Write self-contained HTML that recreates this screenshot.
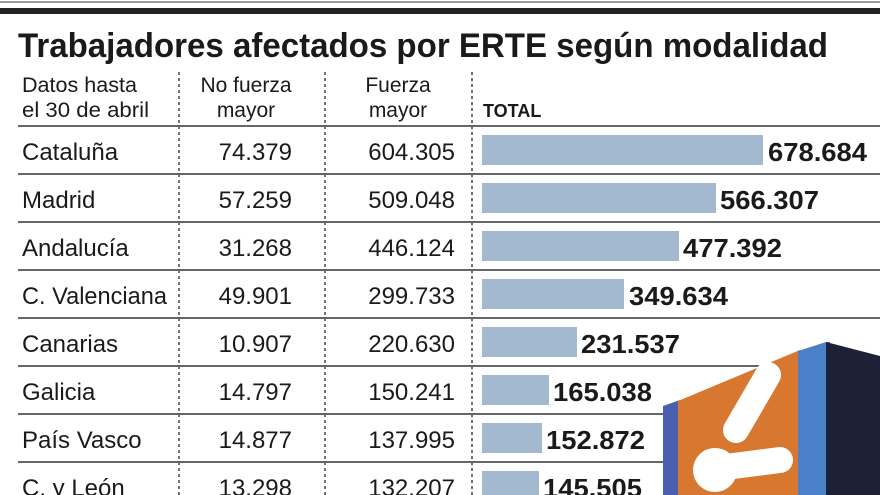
<!DOCTYPE html>
<html><head><meta charset="utf-8"><style>
html,body{margin:0;padding:0;background:#fff;}
svg{display:block;}
text{font-family:"Liberation Sans",sans-serif;fill:#1a1a1a;}
</style></head><body>
<svg width="880" height="495" viewBox="0 0 880 495">
<rect x="0" y="0" width="880" height="495" fill="#fff"/>
<rect x="0" y="1" width="880" height="2" fill="#999"/>
<rect x="0" y="8" width="880" height="6" fill="#222"/>
<text x="18" y="57" font-size="34" font-weight="bold" textLength="810" lengthAdjust="spacingAndGlyphs">Trabajadores afectados por ERTE según modalidad</text>
<g font-size="21" fill="#333">
<text x="22" y="92" textLength="115" lengthAdjust="spacingAndGlyphs">Datos hasta</text>
<text x="22" y="117" textLength="127" lengthAdjust="spacingAndGlyphs">el 30 de abril</text>
<text x="246" y="92" text-anchor="middle">No fuerza</text>
<text x="246" y="117" text-anchor="middle">mayor</text>
<text x="398" y="92" text-anchor="middle">Fuerza</text>
<text x="398" y="117" text-anchor="middle">mayor</text>
</g>
<text x="483" y="117" font-size="18" font-weight="bold">TOTAL</text>
<g stroke="#444" stroke-width="1.5" stroke-dasharray="3,3">
<line x1="179" y1="72" x2="179" y2="495"/>
<line x1="325" y1="72" x2="325" y2="495"/>
<line x1="472" y1="72" x2="472" y2="495"/>
</g>
<g stroke="#666" stroke-width="2">
<line x1="18" y1="126" x2="880" y2="126"/>
<line x1="18" y1="174" x2="880" y2="174"/>
<line x1="18" y1="222" x2="880" y2="222"/>
<line x1="18" y1="270" x2="880" y2="270"/>
<line x1="18" y1="318" x2="880" y2="318"/>
<line x1="18" y1="366" x2="880" y2="366"/>
<line x1="18" y1="414" x2="880" y2="414"/>
<line x1="18" y1="462" x2="880" y2="462"/>
</g>
<g fill="#a3b9cf">
<rect x="482" y="135" width="281" height="30"/>
<rect x="482" y="183" width="234" height="30"/>
<rect x="482" y="231" width="197" height="30"/>
<rect x="482" y="279" width="142" height="30"/>
<rect x="482" y="327" width="95" height="30"/>
<rect x="482" y="375" width="67" height="30"/>
<rect x="482" y="423" width="60" height="30"/>
<rect x="482" y="471" width="57" height="30"/>
</g>
<g font-size="24">
<text x="22" y="160">Cataluña</text>
<text x="22" y="208">Madrid</text>
<text x="22" y="256">Andalucía</text>
<text x="22" y="304" textLength="145" lengthAdjust="spacingAndGlyphs">C. Valenciana</text>
<text x="22" y="352">Canarias</text>
<text x="22" y="400">Galicia</text>
<text x="22" y="448">País Vasco</text>
<text x="22" y="496">C. y León</text>
</g>
<g font-size="24" text-anchor="end">
<text x="292" y="160">74.379</text>
<text x="292" y="208">57.259</text>
<text x="292" y="256">31.268</text>
<text x="292" y="304">49.901</text>
<text x="292" y="352">10.907</text>
<text x="292" y="400">14.797</text>
<text x="292" y="448">14.877</text>
<text x="292" y="496">13.298</text>
<text x="455" y="160">604.305</text>
<text x="455" y="208">509.048</text>
<text x="455" y="256">446.124</text>
<text x="455" y="304">299.733</text>
<text x="455" y="352">220.630</text>
<text x="455" y="400">150.241</text>
<text x="455" y="448">137.995</text>
<text x="455" y="496">132.207</text>
</g>
<g font-size="26" font-weight="bold">
<text x="768" y="161" textLength="99" lengthAdjust="spacingAndGlyphs">678.684</text>
<text x="720" y="209" textLength="99" lengthAdjust="spacingAndGlyphs">566.307</text>
<text x="683" y="257" textLength="99" lengthAdjust="spacingAndGlyphs">477.392</text>
<text x="629" y="305" textLength="99" lengthAdjust="spacingAndGlyphs">349.634</text>
<text x="581" y="353" textLength="99" lengthAdjust="spacingAndGlyphs">231.537</text>
<text x="553" y="401" textLength="99" lengthAdjust="spacingAndGlyphs">165.038</text>
<text x="546" y="449" textLength="99" lengthAdjust="spacingAndGlyphs">152.872</text>
<text x="543" y="497" textLength="99" lengthAdjust="spacingAndGlyphs">145.505</text>
</g>
<!-- logo -->
<polygon points="663,406 680,400 680,495 663,495" fill="#4a5fb0"/>
<polygon points="678,401 800,350 800,495 678,495" fill="#d8772f"/>
<polygon points="798,351 826,342 830,342 830,495 798,495" fill="#4a80c8"/>
<polygon points="826,342 880,356 880,495 826,495" fill="#1c2136"/>
<line x1="768" y1="375" x2="736" y2="430" stroke="#fff" stroke-width="26" stroke-linecap="round"/>
<line x1="718" y1="468" x2="780" y2="460" stroke="#fff" stroke-width="26" stroke-linecap="round"/>
<circle cx="715" cy="470" r="22" fill="#fff"/>
</svg>
</body></html>
